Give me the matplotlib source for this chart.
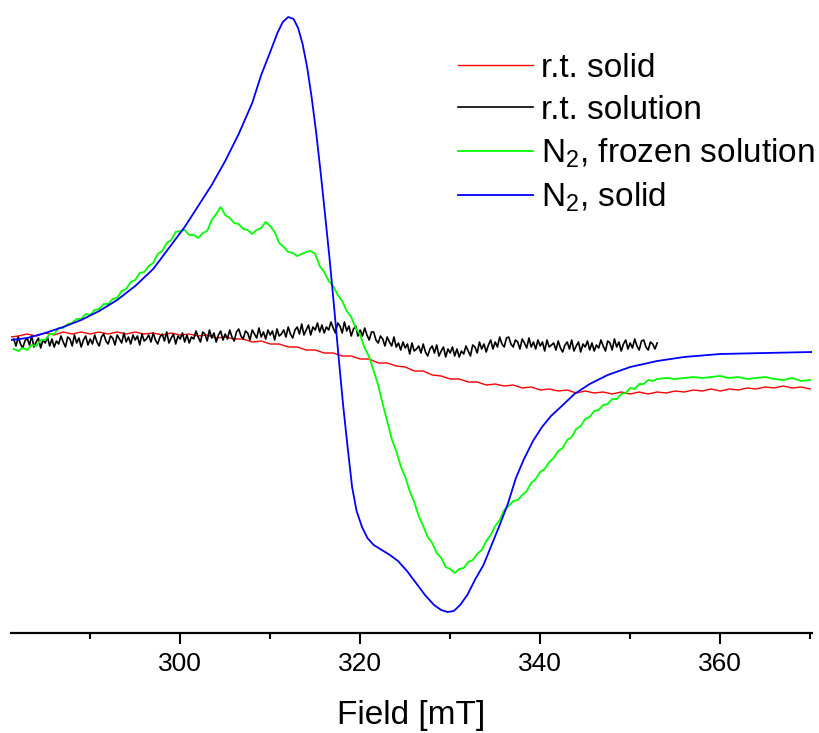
import numpy as np
import matplotlib
matplotlib.use('Agg')
import matplotlib.pyplot as plt

plt.rcParams['font.family'] = ['Liberation Sans', 'DejaVu Sans']
plt.rcParams['mathtext.default'] = 'regular'

# N2, solid (field in mT, intensity in arbitrary units)
blue_field = [281.2, 283.0, 285.0, 287.0, 289.0, 291.0, 293.0, 295.0, 297.0, 299.0,
              300.5, 302.0, 303.5, 305.0, 306.5, 308.0, 309.0, 310.0, 310.8, 311.4,
              312.0, 312.6, 313.1, 313.6, 314.1, 314.6, 315.1, 315.6, 316.1, 316.6,
              317.1, 317.6, 318.1, 318.6, 319.1, 319.6, 320.2, 320.8, 321.5, 322.4,
              323.3, 324.2, 325.2, 326.2, 327.2, 328.2, 329.0, 329.7, 330.4, 331.1,
              331.9, 332.8, 333.7, 334.6, 335.5, 336.4, 337.3, 338.2, 339.2, 340.2,
              341.2, 342.4, 343.8, 345.5, 347.5, 350.0, 353.0, 356.0, 360.0, 365.0,
              370.2]
blue_int = [-3, -1, 4, 10, 17, 26, 37, 51, 68, 92,
            110, 131, 152, 176, 203, 234, 262, 285, 304, 315,
            320, 318, 309, 293, 270, 240, 205, 165, 122, 78,
            30, -20, -68, -110, -150, -174, -190, -201, -208, -213,
            -218, -224, -234, -246, -258, -268, -273, -275, -274, -268,
            -258, -242, -228, -208, -188, -167, -141, -122, -104, -90,
            -79, -69, -57, -47, -38, -30, -24, -20, -17, -16,
            -15]

# N2, frozen solution (0.5 mT steps up to 352.5 mT, then 1 mT steps)
green_field = list(np.arange(281.5, 352.51, 0.5)) + list(range(353, 371))
green_int = [-12, -14, -11, -13, -8, -9, -3, -3, 3, 3,
             9, 9, 13, 14, 18, 18, 23, 22, 27, 28,
             33, 33, 38, 39, 46, 48, 55, 57, 64, 65,
             71, 74, 83, 86, 94, 97, 105, 106, 107, 102,
             102, 99, 104, 106, 117, 123, 130, 122, 119, 114,
             113, 108, 107, 103, 107, 109, 115, 111, 105, 94,
             90, 85, 84, 81, 83, 85, 86, 83, 71, 65,
             56, 51, 42, 36, 26, 20, 9, 2, -11, -20,
             -34, -48, -67, -84, -102, -114, -129, -140, -154, -165,
             -179, -189, -200, -206, -216, -221, -230, -232, -236, -232,
             -231, -225, -223, -217, -213, -204, -198, -189, -183, -173,
             -169, -164, -163, -158, -154, -146, -142, -135, -132, -125,
             -121, -114, -111, -103, -100, -92, -89, -82, -80, -74,
             -73, -68, -67, -62, -62, -57, -56, -51, -52, -47,
             -47, -43, -44,
             -42, -41, -42, -41, -40, -41, -40, -39, -41, -40,
             -42, -41, -40, -42, -43, -41, -44, -43]

# r.t. solid
red_field = [281.2] + list(range(282, 371))
red_int = [0,
           1, 3, 1, 4, 2, 5, 3, 5, 3, 5,
           3, 5, 3, 5, 3, 4, 2, 4, 2, 3,
           1, 2, -1, 0, -2, -2, -5, -4, -7, -7,
           -10, -10, -13, -13, -16, -16, -19, -19, -22, -22,
           -26, -26, -29, -30, -34, -34, -38, -39, -42, -42,
           -45, -45, -48, -47, -49, -48, -51, -50, -53, -52,
           -54, -53, -56, -54, -56, -55, -57, -55, -57, -55,
           -57, -55, -56, -54, -55, -53, -54, -52, -54, -52,
           -53, -51, -52, -50, -51, -49, -51, -50, -52]

# r.t. solution (noisy trace, 0.25 mT steps from 281.5 to 353.0 mT)
black_field = np.arange(281.5, 353.01, 0.25)
black_int = [-2, -9, 0, -7, -11, -4, -1, -8, 1, -10, -5, -1, -11, -3, -6, 0, -9, -2, -10, -4,
             -7, 1, -5, -10, 0, -2, -9, 2, -6, -1, -10, -3, 1, -8, -2, -7, 2, -5, -9, 0,
             3, -4, -7, 1, -1, -8, 2, -2, -6, 4, -5, 0, -7, 2, -3, 1, -8, 3, -4, -2,
             2, -5, 4, -3, -7, 0, 3, -4, 5, -6, -1, 3, -7, 1, -2, 4, -5, 2, -6, 0,
             -2, 6, 0, -5, 5, 3, -4, 7, -1, 4, -5, 2, 6, -3, 3, -2, 7, 0, -4, 5,
             8, 1, -2, 6, 4, -3, 7, 3, -1, 9, 0, 5, -2, 7, 2, 6, -3, 8, 1, 3,
             7, 0, 10, 3, -1, 7, 10, 3, 13, 2, 7, 12, 2, 10, 7, 14, 5, 12, 4, 10,
             7, 15, 9, 4, 14, 11, 4, 15, 6, 11, 1, 8, 11, 1, 7, 1, 9, 2, -3, 5,
             5, -3, -6, 1, -2, -9, 0, -5, -9, 0, -10, -6, -13, -5, -11, -7, -17, -6, -14, -12,
             -9, -16, -7, -15, -19, -12, -9, -16, -8, -19, -14, -10, -20, -12, -16, -10, -19, -12, -20, -14,
             -17, -9, -14, -19, -8, -10, -16, -5, -12, -7, -15, -8, -3, -12, -5, -10, 0, -7, -10, -1,
             0, -7, -10, -3, -5, -12, -2, -6, -11, -1, -10, -5, -12, -3, -9, -5, -14, -3, -10, -8,
             -6, -13, -4, -11, -15, -8, -5, -12, -3, -14, -9, -5, -15, -7, -10, -4, -13, -6, -14, -8,
             -11, -3, -9, -14, -4, -6, -13, -2, -10, -5, -14, -7, -3, -12, -6, -11, -2, -9, -13, -4,
             -3, -10, -13, -5, -7, -12, -6]

fig = plt.figure(figsize=(8.2, 7.33), dpi=100)
ax = fig.add_axes([11 / 820, 100 / 733, 801 / 820, 628 / 733])

ax.plot(red_field, red_int, color='#ff0000', lw=1.0, label='r.t. solid')
ax.plot(black_field, black_int, color='black', lw=1.2, label='r.t. solution')
ax.plot(green_field, green_int, color='#00ff00', lw=1.3, label='N$_2$, frozen solution')
ax.plot(blue_field, blue_int, color='#0000ff', lw=1.3, label='N$_2$, solid')

ax.set_xlim(281.2, 370.2)
ax.set_ylim(-296, 332)
ax.set_xticks([300, 320, 340, 360])
ax.set_xticks([290, 310, 330, 350, 370], minor=True)
ax.set_yticks([])
for side in ['top', 'right', 'left']:
    ax.spines[side].set_visible(False)
ax.spines['bottom'].set_linewidth(1.6)
ax.tick_params(axis='x', which='major', length=8, width=1.5, labelsize=19, pad=6)
ax.tick_params(axis='x', which='minor', length=4, width=1.5)
ax.set_xlabel('Field [mT]', fontsize=24, labelpad=17)

ax.legend(loc='upper left', bbox_to_anchor=(458 / 820, 1 - 53 / 733),
          bbox_transform=fig.transFigure, frameon=False, fontsize=24,
          handlelength=2.25, handletextpad=0.25, labelspacing=0.32,
          borderpad=0, borderaxespad=0)

fig.savefig('out.png', dpi=100)
